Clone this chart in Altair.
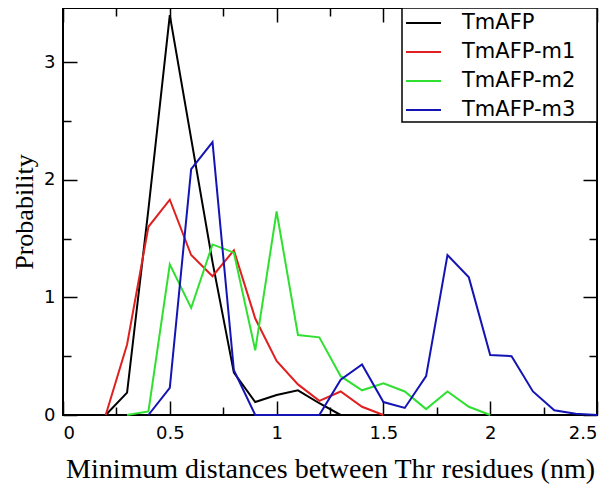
import altair as alt
import pandas as pd

series_names = ["TmAFP", "TmAFP-m1", "TmAFP-m2", "TmAFP-m3"]
series_colors = ["#000000", "#e02020", "#30e030", "#1414b4"]

x_tmafp = [0.2, 0.3, 0.4, 0.5, 0.6, 0.7, 0.8, 0.9, 1.0, 1.1, 1.2, 1.3]
y_tmafp = [0.0, 0.19, 1.75, 3.4, 2.35, 1.3, 0.36, 0.11, 0.17, 0.21, 0.1, 0.0]

x_m1 = [0.2, 0.3, 0.4, 0.5, 0.6, 0.7, 0.8, 0.9, 1.0, 1.1, 1.2, 1.3, 1.4, 1.5]
y_m1 = [0.0, 0.6, 1.6, 1.83, 1.36, 1.18, 1.4, 0.82, 0.46, 0.26, 0.12, 0.2, 0.07, 0.0]

x_m2 = [0.3, 0.4, 0.5, 0.6, 0.7, 0.8, 0.9, 1.0, 1.1, 1.2, 1.3, 1.4, 1.5, 1.6, 1.7, 1.8, 1.9, 2.0]
y_m2 = [0.0, 0.03, 1.28, 0.91, 1.45, 1.38, 0.55, 1.73, 0.68, 0.66, 0.33, 0.21, 0.27, 0.2, 0.05, 0.2, 0.07, 0.0]

x_m3 = [0.4, 0.5, 0.6, 0.7, 0.8, 0.9, 1.0, 1.1, 1.2, 1.3, 1.4, 1.5, 1.6, 1.7, 1.8, 1.9, 2.0, 2.1, 2.2, 2.3, 2.4, 2.5]
y_m3 = [0.0, 0.23, 2.09, 2.32, 0.38, 0.0, 0.0, 0.0, 0.0, 0.3, 0.43, 0.11, 0.06, 0.33, 1.36, 1.17, 0.51, 0.5, 0.2, 0.04, 0.01, 0.0]

x_label_values = [0, 0.5, 1, 1.5, 2, 2.5]
x_tick_values = [0, 0.25, 0.5, 0.75, 1, 1.25, 1.5, 1.75, 2, 2.25, 2.5]
y_label_values = [0, 1, 2, 3]
y_tick_values = [0, 0.5, 1, 1.5, 2, 2.5, 3]

rows = []
for name, xs, ys in zip(series_names, [x_tmafp, x_m1, x_m2, x_m3], [y_tmafp, y_m1, y_m2, y_m3]):
    for i, (a, b) in enumerate(zip(xs, ys)):
        rows.append({"d": a, "p": b, "series": name, "i": i})
df = pd.DataFrame(rows)

W, H = 534, 407
xscale = alt.Scale(domain=[0, 2.5], nice=False, zero=False)
yscale = alt.Scale(domain=[0, 3.46], nice=False)

x_cond = {"condition": {"test": "datum.value % 0.5 == 0", "value": 14}, "value": 8}
y_cond = {"condition": {"test": "datum.value % 1 == 0", "value": 14}, "value": 8}

color = alt.Color(
    "series:N",
    scale=alt.Scale(domain=series_names, range=series_colors),
    legend=alt.Legend(
        title=None, orient="none", legendX=342, legendY=-3.5, padding=0,
        symbolType="stroke", symbolSize=1225, symbolStrokeWidth=2,
        labelFont="DejaVu Sans", labelFontSize=21, labelColor="black",
        labelOffset=20, rowPadding=-8.5, labelLimit=300,
    ),
)

frame_box = alt.Chart(pd.DataFrame({"a": [0]})).mark_rect(
    fill="white", stroke="black", strokeWidth=1.5
).encode(x=alt.value(339), x2=alt.value(534), y=alt.value(0), y2=alt.value(114))

lines = alt.Chart(df).mark_line(strokeWidth=2).encode(
    x=alt.X("d:Q", scale=xscale, axis=alt.Axis(
        values=x_label_values, format="~g", tickSize=0, domain=False, grid=False,
        labelFont="DejaVu Sans", labelFontSize=18, labelColor="black", labelPadding=9,
        title="Minimum distances between Thr residues (nm)",
        titleFont="Liberation Serif", titleFontSize=28, titleFontWeight="normal",
        titleColor="black", titlePadding=13)),
    y=alt.Y("p:Q", scale=yscale, axis=alt.Axis(
        values=y_label_values, format="d", tickSize=0, domain=False, grid=False,
        labelFont="DejaVu Sans", labelFontSize=18, labelColor="black", labelPadding=8,
        title="Probability",
        titleFont="Liberation Serif", titleFontSize=26, titleFontWeight="normal",
        titleColor="black", titlePadding=6)),
    color=color,
    order="i:Q",
)

ticks_a = alt.Chart(df).mark_line(opacity=0).encode(
    x=alt.X("d:Q", scale=xscale, axis=alt.Axis(
        orient="top", offset=-H, values=x_tick_values, labels=False, domain=False,
        grid=False, tickSize=x_cond, tickWidth=1.5, tickColor="black", title=None)),
    y=alt.Y("p:Q", scale=yscale, axis=alt.Axis(
        orient="right", offset=-W, values=y_tick_values, labels=False, domain=False,
        grid=False, tickSize=y_cond, tickWidth=1.5, tickColor="black", title=None)),
)

ticks_b = alt.Chart(df).mark_line(opacity=0).encode(
    x=alt.X("d:Q", scale=xscale, axis=alt.Axis(
        orient="bottom", offset=-H, values=x_tick_values, labels=False, domain=False,
        grid=False, tickSize=x_cond, tickWidth=1.5, tickColor="black", title=None)),
    y=alt.Y("p:Q", scale=yscale, axis=alt.Axis(
        orient="left", offset=-W, values=y_tick_values, labels=False, domain=False,
        grid=False, tickSize=y_cond, tickWidth=1.5, tickColor="black", title=None)),
)

chart = alt.layer(frame_box, ticks_a, ticks_b, lines).resolve_axis(
    x="independent", y="independent"
).properties(
    width=W, height=H,
    autosize=alt.AutoSizeParams(type="none"),
    padding={"left": 55, "top": 0, "right": 10, "bottom": 71},
).configure_view(stroke="black", strokeWidth=2)

chart.save("out.html", embed_options={"renderer": "svg", "actions": False})
